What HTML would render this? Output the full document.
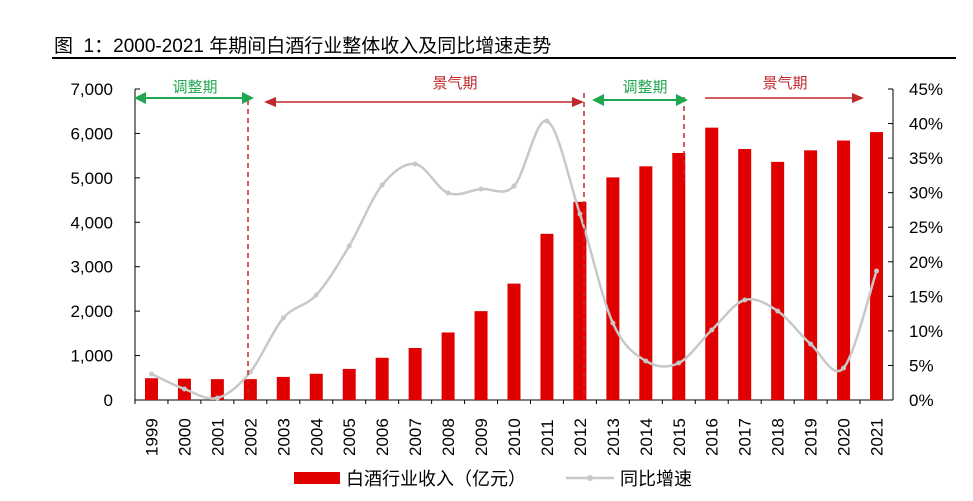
<!DOCTYPE html><html><head><meta charset="utf-8"><style>
body{margin:0;background:#fff;width:973px;height:496px;overflow:hidden}
svg{font-family:"Liberation Sans","Noto Sans CJK SC",sans-serif}
</style></head><body>
<svg id="s" width="973" height="496" xmlns="http://www.w3.org/2000/svg">
<text x="54" y="52" font-size="19" fill="#000">图&#160;&#160;1：2000-2021 年期间白酒行业整体收入及同比增速走势</text>
<line x1="52" y1="58" x2="956" y2="58" stroke="#000" stroke-width="2"/>
<g font-size="17" fill="#000" text-anchor="end" id="yl"></g>
<g font-size="17" fill="#000" text-anchor="start" id="yr"></g>
<line x1="135" y1="89" x2="135" y2="400" stroke="#000"/>
<line x1="135" y1="400" x2="893" y2="400" stroke="#000"/>
<line x1="893" y1="89" x2="893" y2="400" stroke="#000"/>
<g id="bars" fill="#e00000"></g>
<g id="xt" font-size="17" fill="#000"></g>
<path id="ln" fill="none" stroke="#c8c8c8" stroke-width="2.5"/>
<g id="dots" fill="#c8c8c8"></g>
<g stroke="#c0282c" stroke-width="1.5" stroke-dasharray="5,4">
<line x1="248" y1="100" x2="248" y2="400"/><line x1="584" y1="93" x2="584" y2="400"/><line x1="684" y1="97" x2="684" y2="180"/></g>
<g font-size="15">
<text x="195" y="92" fill="#1fa84f" text-anchor="middle">调整期</text>
<line x1="142" y1="98" x2="246" y2="98" stroke="#1fa84f" stroke-width="2"/>
<polygon points="134,98 146,92 146,104" fill="#1fa84f"/><polygon points="254,98 242,92 242,104" fill="#1fa84f"/>
<text x="455" y="88" fill="#c0282c" text-anchor="middle">景气期</text>
<line x1="272" y1="102" x2="576" y2="102" stroke="#c0282c" stroke-width="1.5"/>
<polygon points="264,102 276,97 276,107" fill="#c0282c"/><polygon points="584,102 572,97 572,107" fill="#c0282c"/>
<text x="645" y="92" fill="#1fa84f" text-anchor="middle">调整期</text>
<line x1="600" y1="100" x2="680" y2="100" stroke="#1fa84f" stroke-width="2"/>
<polygon points="592,100 604,94 604,106" fill="#1fa84f"/><polygon points="688,100 676,94 676,106" fill="#1fa84f"/>
<text x="785" y="88" fill="#c0282c" text-anchor="middle">景气期</text>
<line x1="705" y1="98" x2="855" y2="98" stroke="#c0282c" stroke-width="1.5"/>
<polygon points="864,98 852,93 852,103" fill="#c0282c"/>
</g>
<rect x="294" y="472" width="46" height="12" fill="#e00000"/>
<text x="346" y="485" font-size="18">白酒行业收入（亿元）</text>
<line x1="566" y1="478" x2="614" y2="478" stroke="#c8c8c8" stroke-width="2.5"/>
<circle cx="590" cy="478" r="3" fill="#c8c8c8"/>
<text x="620" y="485" font-size="18">同比增速</text>
</svg>
<script>
var NS="http://www.w3.org/2000/svg";
function el(p,t,a,txt){var e=document.createElementNS(NS,t);for(var k in a)e.setAttribute(k,a[k]);if(txt!=null)e.textContent=txt;document.getElementById(p).appendChild(e);return e;}
var y0=400,yt=89;
for(var i=0;i<=7;i++){var y=y0-(y0-yt)*i/7;el("yl","text",{x:113,y:y+6},i==0?"0":(i*1000).toLocaleString("en-US"));el("yl","line",{x1:135,y1:y,x2:140,y2:y,stroke:"#000"});}
for(var i=0;i<=9;i++){var y=y0-(y0-yt)*i/9;el("yr","text",{x:909,y:y+6},(i*5)+"%");el("yr","line",{x1:888,y1:y,x2:893,y2:y,stroke:"#000"});}
var v=[490,480,470,470,520,590,700,950,1170,1520,2000,2620,3740,4460,5010,5260,5560,6130,5650,5360,5620,5840,6030];
var g=[374,389,398,372,318,295,246,185,164,193,189,186,121,214,323,361,363,330,300,311,344,368,271];
var sp=(893-135)/23,pts=[];
for(var i=0;i<23;i++){var cx=135+sp*(i+0.5),h=v[i]/7000*(y0-yt);
el("bars","rect",{x:cx-6.5,y:y0-h,width:13,height:h});
var tx=cx+6;el("xt","text",{x:tx,y:456,transform:"rotate(-90 "+tx+" 456)"},String(1999+i));
el("xt","line",{x1:135+sp*i,y1:400,x2:135+sp*i,y2:404,stroke:"#000"});
pts.push([cx,g[i]]);el("dots","circle",{cx:cx,cy:g[i],r:2.5});}
var d="M"+pts[0][0]+","+pts[0][1];
for(var i=0;i<22;i++){var p0=pts[Math.max(0,i-1)],p1=pts[i],p2=pts[i+1],p3=pts[Math.min(22,i+2)];
d+=" C"+(p1[0]+(p2[0]-p0[0])/6)+","+(p1[1]+(p2[1]-p0[1])/6)+" "+(p2[0]-(p3[0]-p1[0])/6)+","+(p2[1]-(p3[1]-p1[1])/6)+" "+p2[0]+","+p2[1];}
document.getElementById("ln").setAttribute("d",d);
</script>
</body></html>
